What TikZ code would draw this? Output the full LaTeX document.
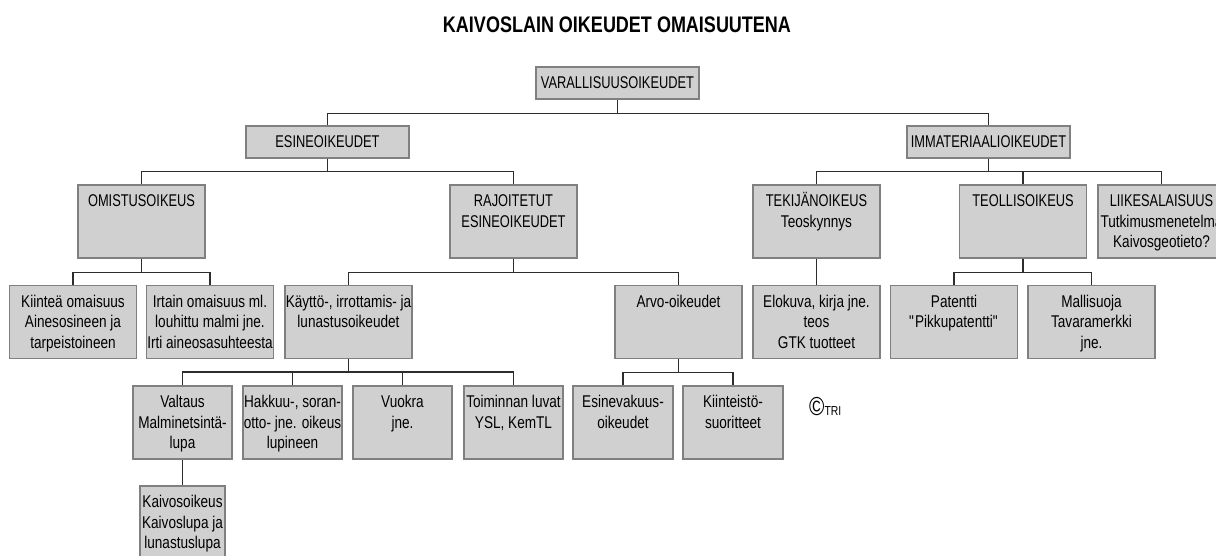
\documentclass[tikz,border=0pt]{standalone}
\usepackage{fontspec}
\setmainfont{Liberation Sans}[FakeStretch=0.80]
\newfontfamily\capsfont{Liberation Sans}[FakeStretch=0.755]
\usetikzlibrary{positioning}
\definecolor{boxfill}{RGB}{208,208,208}
\definecolor{boxline}{RGB}{128,128,128}
\definecolor{linkline}{RGB}{45,45,45}
\newcommand{\headcell}[1]{\parbox[c][32pt][c]{163pt}{\centering\capsfont #1}}
\newcommand{\cell}[2]{\parbox[c][73pt][t]{#1pt}{\centering\rule{0pt}{21.8pt}#2}}

\begin{document}
\begin{tikzpicture}[x=1pt,y=-1pt,
    box/.style={draw=boxline,fill=boxfill,line width=1.2pt,inner sep=0pt,font=\fontsize{17}{20.5}\selectfont},
    link/.style={draw=linkline,line width=1.3pt}]
    \useasboundingbox (0,0) rectangle (1216,556);
    \clip (0,0) rectangle (1216,556);
    \node[font=\fontsize{22.5}{24}\selectfont\bfseries] (title) at (617,25) {KAIVOSLAIN OIKEUDET OMAISUUTENA};
    \node[box] (varall) at (617.5,83) {\headcell{VARALLISUUSOIKEUDET}};
    \node[box] (esine) at (327.5,142) {\headcell{ESINEOIKEUDET}};
    \node[box] (immat) at (988.5,142) {\headcell{IMMATERIAALIOIKEUDET}};
    \node[box] (omist) at (141.5,221.5) {\cell{127}{\capsfont OMISTUSOIKEUS}};
    \node[box] (rajoit) at (513.5,221.5) {\cell{127}{\capsfont RAJOITETUT\\ESINEOIKEUDET}};
    \node[box] (tekij) at (816.5,221.5) {\cell{127}{{\capsfont TEKIJÄNOIKEUS}\\Teoskynnys}};
    \node[box] (teoll) at (1023,221.5) {\cell{127}{\capsfont TEOLLISOIKEUS}};
    \node[box] (liike) at (1161.5,221.5) {\cell{127}{{\capsfont LIIKESALAISUUS}\\Tutkimusmenetelmä\\Kaivosgeotieto?}};
    \node[box] (kiint) at (73,322) {\cell{127}{Kiinteä omaisuus\\Ainesosineen ja\\tarpeistoineen}};
    \node[box] (irtain) at (210,322) {\cell{127}{Irtain omaisuus ml.\\louhittu malmi jne.\\Irti aineosasuhteesta}};
    \node[box] (kaytto) at (348.5,322) {\cell{127}{Käyttö-, irrottamis- ja\\lunastusoikeudet}};
    \node[box] (arvo) at (678.5,322) {\cell{127}{Arvo-oikeudet}};
    \node[box] (eloku) at (816.5,322) {\cell{127}{Elokuva, kirja jne.\\teos\\GTK tuotteet}};
    \node[box] (patent) at (954,322) {\cell{127}{Patentti\\\textquotedbl Pikkupatentti\textquotedbl}};
    \node[box] (mallis) at (1091.5,322) {\cell{127}{Mallisuoja\\Tavaramerkki\\jne.}};
    \node[box] (valtaus) at (182.5,422.5) {\cell{99}{Valtaus\\Malminetsintä-\\lupa}};
    \node[box] (hakkuu) at (292.5,422.5) {\cell{99}{Hakkuu-, soran-\\otto- jne. oikeus\\lupineen}};
    \node[box] (vuokra) at (402.5,422.5) {\cell{99}{Vuokra\\jne.}};
    \node[box] (toimin) at (513.5,422.5) {\cell{99}{Toiminnan luvat\\YSL, KemTL}};
    \node[box] (esinev) at (623,422.5) {\cell{100}{Esinevakuus-\\oikeudet}};
    \node[box] (kiintst) at (733,422.5) {\cell{100}{Kiinteistö-\\suoritteet}};
    \node[box] (kaivos) at (182.5,522.5) {\cell{85}{Kaivosoikeus\\Kaivoslupa ja\\lunastuslupa}};
    \node[anchor=base west,inner sep=0pt] (tri) at (809,415.5) {\fontsize{26}{26}\selectfont\copyright\fontsize{13}{13}\selectfont TRI};
    \draw[link] (varall.south) -- ++(0,14) -| (esine.north);
    \draw[link] (varall.south) -- ++(0,14) -| (immat.north);
    \draw[link] (esine.south) -- ++(0,13) -| (omist.north);
    \draw[link] (esine.south) -- ++(0,13) -| (rajoit.north);
    \draw[link] (immat.south) -- ++(0,13) -| (tekij.north);
    \draw[link] (immat.south) -- ++(0,13) -| (teoll.north);
    \draw[link] (immat.south) -- ++(0,13) -| (liike.north);
    \draw[link] (omist.south) -- ++(0,14) -| (kiint.north);
    \draw[link] (omist.south) -- ++(0,14) -| (irtain.north);
    \draw[link] (rajoit.south) -- ++(0,14) -| (kaytto.north);
    \draw[link] (rajoit.south) -- ++(0,14) -| (arvo.north);
    \draw[link] (tekij.south) -- (eloku.north);
    \draw[link] (teoll.south) -- ++(0,14) -| (patent.north);
    \draw[link] (teoll.south) -- ++(0,14) -| (mallis.north);
    \draw[link] (kaytto.south) -- ++(0,13) -| (valtaus.north);
    \draw[link] (kaytto.south) -- ++(0,13) -| (hakkuu.north);
    \draw[link] (kaytto.south) -- ++(0,13) -| (vuokra.north);
    \draw[link] (kaytto.south) -- ++(0,13) -| (toimin.north);
    \draw[link] (arvo.south) -- ++(0,13.5) -| (esinev.north);
    \draw[link] (arvo.south) -- ++(0,13.5) -| (kiintst.north);
    \draw[link] (valtaus.south) -- (kaivos.north);
\end{tikzpicture}
\end{document}
